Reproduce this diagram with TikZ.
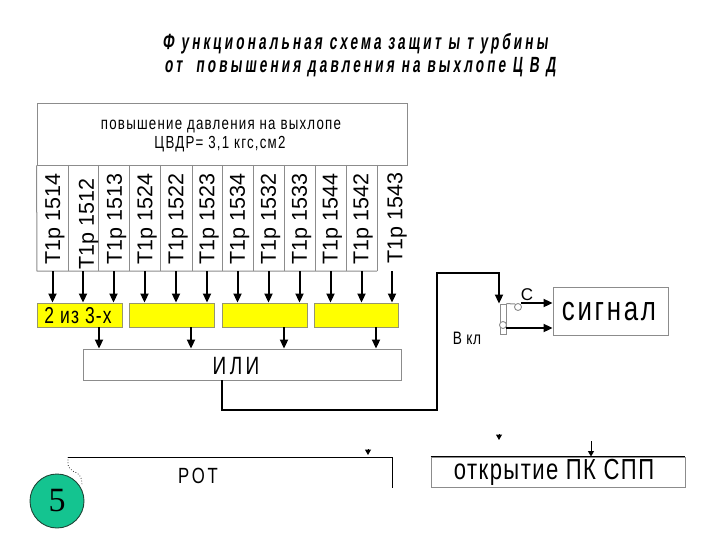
\documentclass[tikz,border=0pt]{standalone}
\usepackage{fontspec}
\setmainfont{Liberation Sans}
\newfontfamily\nf[FakeStretch=0.76]{Liberation Sans}
\newfontfamily\tf[FakeStretch=0.62,FakeSlant=0.12]{Liberation Sans}
\newfontfamily\serifnum{Liberation Serif}
\usetikzlibrary{arrows.meta}
\definecolor{boxgray}{RGB}{140,140,140}
\definecolor{ylw}{RGB}{255,255,0}
\definecolor{ylwborder}{RGB}{150,150,110}
\definecolor{teal5}{RGB}{20,196,144}
\definecolor{teal5d}{RGB}{30,70,55}
\begin{document}
\begin{tikzpicture}[x=1pt,y=-1pt,
  box/.style={draw=boxgray, line width=0.9pt, inner sep=0pt},
  ybox/.style={draw=ylwborder, fill=ylw, line width=0.9pt, inner sep=0pt, minimum height=24pt},
  arr/.style={line width=2pt, -{Triangle[length=9pt,width=8pt]}},
  thinline/.style={line width=1pt},
  tiparr/.style={line width=1pt, -{Triangle[length=5.5pt,width=6pt]}},
  collab/.style={rotate=90, font=\fontsize{21.5}{23}\selectfont, inner sep=0pt},
  titlestyle/.style={font={\tf\bfseries\fontsize{22}{24}\selectfont\addfontfeatures{LetterSpace=14}}},
]
\useasboundingbox (0,0) rectangle (720,540);

% title
\node[titlestyle] (t1) at (355,44) {Ф ункциональная схема защит ы т урбины};
\node[titlestyle] (t2) at (360,67) {от \ повышения давления на выхлопе Ц В Д};

% header box
\node[box, minimum width=370pt, minimum height=62pt] (hdr) at (222,134) {};
\node[font={\nf\fontsize{17.5}{19}\selectfont\addfontfeatures{LetterSpace=7}}] (h1) at (221,127) {повышение давления на выхлопе};
\node[font={\nf\fontsize{17.5}{19}\selectfont\addfontfeatures{LetterSpace=7}}] (h2) at (220,144) {ЦВДР= 3,1 кгс,см2};

% label columns
\draw[boxgray, thinline] (hdr.south west) -- (37,271) -- (377,271);
\foreach \x in {68,98,129,160,192,222,253,284,315,346,377}
  \draw[boxgray, thinline] (\x,165) -- (\x,271);

% yellow boxes
\node[ybox, minimum width=85pt] (yb1) at (79.5,315) {};
\node[ybox, minimum width=85pt] (yb2) at (171.5,315) {};
\node[ybox, minimum width=85pt] (yb3) at (264.5,315) {};
\node[ybox, minimum width=84pt] (yb4) at (356,315) {};
\node[font={\nf\fontsize{23}{24}\selectfont\addfontfeatures{LetterSpace=5}}] (y1t) at (78,315.5) {2 из 3-х};

\foreach \i/\x/\lab/\dx/\dy/\b in {1/52.5/1514/2.5/0/1, 2/83/1512/5.5/5/1, 3/113.5/1513/3/0/1,
    4/144.5/1524/2.5/0/2, 5/176/1522/2/0/2, 6/207/1523/2/0/2,
    7/237.5/1534/2/0/3, 8/268.5/1532/2/0/3, 9/299.5/1533/2/0/3,
    10/330.5/1544/2/0/4, 11/361.5/1542/1.5/0/4, 12/392/1543/5/-1/4} {
  \node[collab] (lab\i) at (\x+\dx,219+\dy) {T1p \lab};
  \coordinate (s\i) at (\x,271);
  \draw[arr] (s\i) -- (s\i |- yb\b.north);
}

% OR box
\node[box, minimum width=318pt, minimum height=31pt] (ili) at (242,364.5) {};
\node[font={\nf\fontsize{25}{26}\selectfont\addfontfeatures{LetterSpace=14}}] (ilit) at (236,366) {ИЛИ};
\coordinate (o1) at (99,0);
\coordinate (o2) at (191,0);
\coordinate (o3) at (284,0);
\coordinate (o4) at (376,0);
\draw[arr] (yb1.south -| o1) -- (ili.north -| o1);
\draw[arr] (yb2.south -| o2) -- (ili.north -| o2);
\draw[arr] (yb3.south -| o3) -- (ili.north -| o3);
\draw[arr] (yb4.south -| o4) -- (ili.north -| o4);

% wire to contact
\coordinate (w0) at (222,0);
\coordinate (w1) at (222,410);
\coordinate (w2) at (437,410);
\coordinate (w3) at (437,273);
\coordinate (w4) at (499,273);
\node[box, minimum width=6pt, minimum height=30pt] (ct) at (503,319) {};
\draw[arr] (ili.south -| w0) -- (w1) -- (w2) -- (w3) -- (w4) -- (ct.north -| w4);

% contact details
\node[draw=boxgray, circle, line width=0.9pt, minimum size=7pt, inner sep=0pt, fill=white] (cc1) at (518,307) {};
\node[draw=boxgray, circle, line width=0.9pt, minimum size=7pt, inner sep=0pt, fill=white] (cc2) at (503,325) {};
\draw[boxgray, thinline] (ct.north east) -- (515,304);
\node[font=\fontsize{17}{18}\selectfont] (clab) at (527,295) {С};
\node[font={\nf\fontsize{18}{19}\selectfont\addfontfeatures{LetterSpace=3}}] (vkl) at (467,338) {В кл};

% signal box
\node[box, minimum width=115pt, minimum height=48pt] (sig) at (610.5,311) {};
\node[font={\nf\fontsize{34}{36}\selectfont\addfontfeatures{LetterSpace=8}}] (sigt) at (609,312) {сигнал};
\coordinate (a1) at (521,303);
\coordinate (a2) at (506,328);
\draw[arr] (a1) -- (a1 -| sig.west);
\draw[arr] (a2) -- (a2 -| sig.west);

% ROT
\coordinate (r0) at (68,457);
\coordinate (r1) at (392,457);
\coordinate (r2) at (392,488);
\draw[thinline] (r0) -- (r1) -- (r2);
\draw[line width=0.7pt, dotted] (r0) -- (68,462) .. controls (67,468) and (72,471) .. (77,473) .. controls (81,476) and (82,479) .. (82,486);
\node[font={\nf\fontsize{22}{24}\selectfont\addfontfeatures{LetterSpace=13}}] (rot) at (198,476) {РОТ};
\coordinate (m1) at (368,449);
\coordinate (m1e) at (368,455);
\draw[tiparr] (m1) -- (m1e);
\coordinate (m2) at (499,434);
\coordinate (m2e) at (499,440);
\draw[tiparr] (m2) -- (m2e);

% open PK SPP
\node[box, minimum width=254pt, minimum height=30pt] (pk) at (558,472) {};
\draw[thinline] (pk.north west) -- (pk.north east);
\coordinate (p1) at (591,441);
\draw[tiparr] (p1) -- (pk.north -| p1);
\node[font={\nf\fontsize{29}{30}\selectfont\addfontfeatures{LetterSpace=5}}] (pkt) at (554,472) {открытие ПК СПП};

% circle 5
\node[circle, draw=teal5d, fill=teal5, line width=0.9pt, minimum size=54pt, inner sep=0pt, font={\serifnum\fontsize{34}{36}\selectfont}] (n5) at (57,501) {5};
\end{tikzpicture}
\end{document}
